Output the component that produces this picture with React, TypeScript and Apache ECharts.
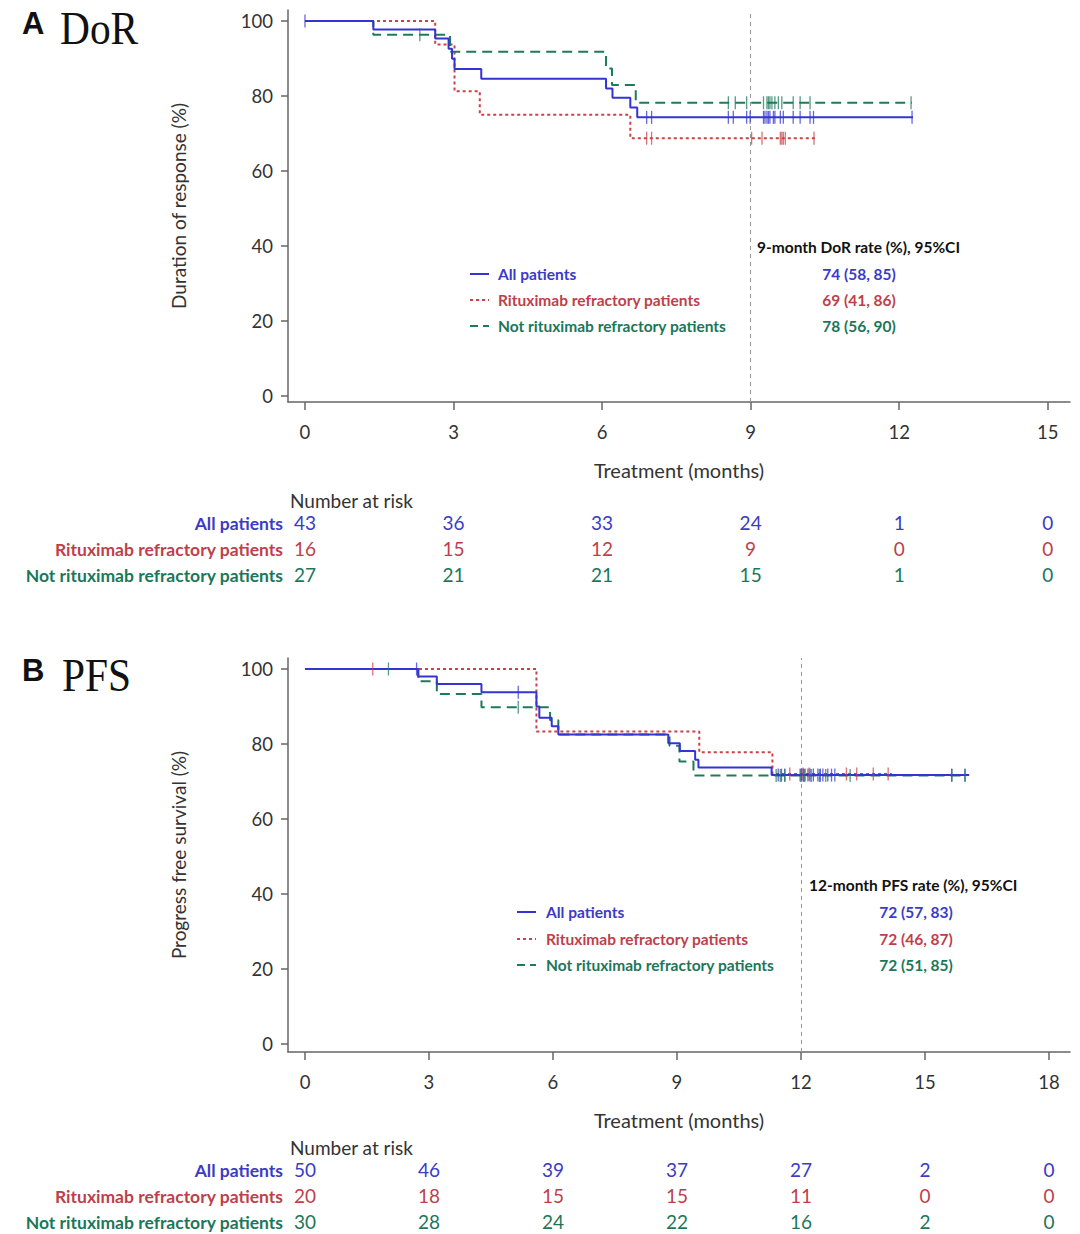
import React, { useEffect, useRef } from 'react';
import * as echarts from 'echarts';

// ---------- data ----------
const groupNames = ['All patients', 'Rituximab refractory patients', 'Not rituximab refractory patients'];
const lineColors = ['#3434d2', '#cf3f47', '#1f7a5c'];
const textColors = ['#3b3bc6', '#be3f4b', '#1c765a'];

// DoR Kaplan-Meier steps [month, %]
const dorAll = [[0, 100], [1.38, 97.7], [2.63, 95.3], [2.9, 92.6], [2.97, 89.9], [3.02, 87.2], [3.56, 84.6], [6.08, 82.0], [6.21, 79.5], [6.57, 76.9], [6.71, 74.3], [12.28, 74.3]];
const dorRitux = [[0, 100], [2.63, 93.75], [3.02, 81.25], [3.53, 75], [6.57, 68.75], [10.34, 68.75]];
const dorNot = [[0, 100], [1.38, 96.3], [2.93, 91.8], [6.08, 87.3], [6.2, 82.9], [6.68, 78.2], [12.26, 78.2]];
const dorCensAll = [0, 6.9, 7.0, 8.55, 8.65, 8.92, 8.99, 9.26, 9.29, 9.33, 9.36, 9.39, 9.46, 9.49, 9.6, 9.66, 9.86, 10.0, 10.2, 10.27, 12.26];
const dorCensRitux = [6.9, 7.0, 9.02, 9.23, 9.6, 9.63, 9.66, 9.7, 10.28];
const dorCensNot = [2.32, 8.55, 8.69, 8.92, 9.26, 9.33, 9.36, 9.39, 9.43, 9.49, 9.56, 9.63, 9.86, 10.0, 10.2, 12.24];

// PFS Kaplan-Meier steps [month, %]
const pfsAll = [[0, 100], [2.74, 98], [3.19, 96], [4.27, 93.8], [5.6, 90], [5.67, 87], [5.97, 84.7], [6.13, 82.5], [8.79, 80.2], [9.07, 78.1], [9.44, 75.8], [9.52, 73.7], [11.29, 71.7], [16.07, 71.7]];
const pfsRitux = [[0, 100], [5.6, 83.3], [9.54, 77.8], [11.31, 72.0], [14.2, 72.0]];
const pfsNot = [[0, 100], [2.74, 96.7], [3.19, 93.3], [4.27, 89.8], [5.93, 86.3], [6.13, 82.5], [8.82, 79.5], [9.06, 75.3], [9.4, 71.6], [16.0, 71.6]];
const pfsCensAll = [2.7, 5.16, 11.45, 11.53, 11.61, 11.98, 12.02, 12.06, 12.1, 12.17, 12.22, 12.3, 12.41, 12.47, 12.53, 12.65, 12.74, 12.82, 15.65, 15.97];
const pfsCensRitux = [1.64, 11.73, 12.05, 12.2, 13.1, 13.35, 13.75, 14.11];
const pfsCensNot = [2.02, 5.16, 11.4, 11.5, 11.61, 12.0, 12.08, 12.25, 12.45, 12.6, 13.19, 15.65, 15.97];

const dorTicks = [0, 3, 6, 9, 12, 15];
const pfsTicks = [0, 3, 6, 9, 12, 15, 18];
const yTicks = [0, 20, 40, 60, 80, 100];

const dorRiskAll = [43, 36, 33, 24, 1, 0];
const dorRiskRitux = [16, 15, 12, 9, 0, 0];
const dorRiskNot = [27, 21, 21, 15, 1, 0];
const pfsRiskAll = [50, 46, 39, 37, 27, 2, 0];
const pfsRiskRitux = [20, 18, 15, 15, 11, 0, 0];
const pfsRiskNot = [30, 28, 24, 22, 16, 2, 0];

const dorRates = ['74 (58, 85)', '69 (41, 86)', '78 (56, 90)'];
const pfsRates = ['72 (57, 83)', '72 (46, 87)', '72 (51, 85)'];

// ---------- helpers ----------
const FONT = "Lato, 'Open Sans', sans-serif";
const dashes: any[] = ['solid', [3, 3], [10, 6]];

function survAt(steps: number[][], t: number) {
  let v = steps[0][1];
  for (const s of steps) if (s[0] <= t) v = s[1];
  return v;
}

function buildPanel(cfg: {
  grid: number; xMin: number; xMax: number; yMin: number; yMax: number; ticks: number[];
  risks: number[][]; yName: string; riskOffsets: number[];
}) {
  const xAxes: any[] = [];
  xAxes.push({
    type: 'value', gridIndex: cfg.grid, min: cfg.xMin, max: cfg.xMax, position: 'bottom',
    name: 'Treatment (months)', nameLocation: 'middle', nameGap: 58,
    nameTextStyle: { fontFamily: FONT, fontSize: 20, color: '#333' },
    axisLine: { show: true, onZero: false, lineStyle: { color: '#666', width: 1.5 } },
    axisTick: { show: true, length: 8, customValues: cfg.ticks, lineStyle: { color: '#666', width: 1.5 } },
    axisLabel: { customValues: cfg.ticks, margin: 20, fontFamily: FONT, fontSize: 18.5, color: '#333' },
    splitLine: { show: false },
  });
  cfg.risks.forEach((r, i) => {
    xAxes.push({
      type: 'value', gridIndex: cfg.grid, min: cfg.xMin, max: cfg.xMax, position: 'bottom', offset: cfg.riskOffsets[i],
      axisLine: { show: false }, axisTick: { show: false }, splitLine: { show: false },
      axisLabel: {
        customValues: cfg.ticks, margin: 0, fontFamily: FONT, fontSize: 19, color: textColors[i],
        formatter: (v: number) => String(r[Math.round(v / 3)]),
      },
    });
  });
  const yAxis = {
    type: 'value', gridIndex: cfg.grid, min: cfg.yMin, max: cfg.yMax,
    name: cfg.yName, nameLocation: 'middle', nameGap: 100, nameRotate: 90,
    nameTextStyle: { fontFamily: FONT, fontSize: 19, color: '#333' },
    axisLine: { show: true, onZero: false, lineStyle: { color: '#666', width: 1.5 } },
    axisTick: { show: true, length: 7, customValues: yTicks, lineStyle: { color: '#666', width: 1.5 } },
    axisLabel: { customValues: yTicks, margin: 15, fontFamily: FONT, fontSize: 18.5, color: '#333' },
    splitLine: { show: false },
  };
  return { xAxes, yAxis };
}

export default function App() {
  const ref = useRef<HTMLDivElement>(null);
  useEffect(() => {
    document.body.style.margin = '0';
    const chart = echarts.init(ref.current!, null, { renderer: 'svg' });

    const top = buildPanel({
      grid: 0, xMin: -0.343, xMax: 15.45, yMin: -1.6, yMax: 102.93, ticks: dorTicks,
      risks: [dorRiskAll, dorRiskRitux, dorRiskNot], yName: 'Duration of response (%)',
      riskOffsets: [111, 137, 163],
    });
    const bot = buildPanel({
      grid: 1, xMin: -0.411, xMax: 18.51, yMin: -2.13, yMax: 102.93, ticks: pfsTicks,
      risks: [pfsRiskAll, pfsRiskRitux, pfsRiskNot], yName: 'Progress free survival (%)',
      riskOffsets: [108, 134, 160],
    });
    const xAxis = [...top.xAxes, ...bot.xAxes];
    const botXIndex = top.xAxes.length;

    const series: any[] = [];
    const panels = [
      { steps: [dorAll, dorRitux, dorNot], cens: [dorCensAll, dorCensRitux, dorCensNot], xi: 0, yi: 0, ref: 9 },
      { steps: [pfsAll, pfsRitux, pfsNot], cens: [pfsCensAll, pfsCensRitux, pfsCensNot], xi: botXIndex, yi: 1, ref: 12 },
    ];
    panels.forEach((p) => {
      p.steps.forEach((s, i) => {
        series.push({
          type: 'line', step: 'end', data: s, xAxisIndex: p.xi, yAxisIndex: p.yi,
          showSymbol: false, symbol: 'none', z: i === 0 ? 4 : 3,
          lineStyle: { color: lineColors[i], width: 2, type: dashes[i] },
          markLine: i === 0 ? {
            silent: true, symbol: ['none', 'none'], label: { show: false },
            lineStyle: { color: '#999', width: 1, type: [4, 4] },
            data: [{ xAxis: p.ref }],
          } : undefined,
        });
      });
      p.cens.forEach((c, i) => {
        series.push({
          type: 'scatter', xAxisIndex: p.xi, yAxisIndex: p.yi, z: 5,
          data: c.map((t) => [t, survAt(p.steps[i], t)]),
          symbol: 'rect', symbolSize: [1.3, 13],
          itemStyle: { color: lineColors[i], opacity: 0.75 },
        });
      });
    });

    const graphic: any[] = [];
    const txt = (text: string, x: number, y: number, font: string, fill: string, align = 'left', extra: any = {}) =>
      graphic.push({ type: 'text', x, y, ...extra, style: { text, font, fill, align, verticalAlign: 'middle' } });

    // panel titles
    txt('A', 22, 23, `bold 31px 'Liberation Sans', Arial, sans-serif`, '#111');
    txt('DoR', 60, 28, `46px 'Liberation Serif', 'DejaVu Serif', serif`, '#111', 'left', { scaleX: 0.9 });
    txt('B', 22, 670, `bold 31px 'Liberation Sans', Arial, sans-serif`, '#111');
    txt('PFS', 62, 675, `46px 'Liberation Serif', 'DejaVu Serif', serif`, '#111', 'left', { scaleX: 0.9 });

    // legends
    const legends = [
      { sx: 470, tx: 498, ys: [274, 300, 326], hx: 757, hy: 247, head: '9-month DoR rate (%), 95%CI', vx: 859, rates: dorRates },
      { sx: 517, tx: 546, ys: [912, 939, 965], hx: 809, hy: 885, head: '12-month PFS rate (%), 95%CI', vx: 916, rates: pfsRates },
    ];
    legends.forEach((L) => {
      txt(L.head, L.hx, L.hy, `bold 15.5px ${FONT}`, '#111');
      L.ys.forEach((y, i) => {
        graphic.push({
          type: 'line', shape: { x1: L.sx, y1: y, x2: L.sx + 19, y2: y },
          style: { stroke: lineColors[i], lineWidth: 2, lineDash: i === 0 ? null : i === 1 ? [3, 3] : [8, 5] },
        });
        txt(groupNames[i], L.tx, y, `bold 15.5px ${FONT}`, textColors[i]);
        txt(L.rates[i], L.vx, y, `bold 15.5px ${FONT}`, textColors[i], 'center');
      });
    });

    // risk tables: header and row labels
    const riskRows = [[500, [523, 549, 575]], [1147, [1170, 1196, 1222]]] as [number, number[]][];
    riskRows.forEach(([hy, rows]) => {
      txt('Number at risk', 290, hy, `19px ${FONT}`, '#333');
      rows.forEach((y, i) => txt(groupNames[i], 283, y, `bold 17.5px ${FONT}`, textColors[i], 'right'));
    });

    chart.setOption({
      animation: false,
      backgroundColor: '#fff',
      grid: [
        { left: 288, top: 10, width: 782, height: 392 },
        { left: 288, top: 658, width: 782, height: 394 },
      ],
      xAxis,
      yAxis: [top.yAxis, bot.yAxis],
      series,
      graphic,
    });
    return () => chart.dispose();
  }, []);
  return <div ref={ref} style={{ width: 1080, height: 1234 }} />;
}
